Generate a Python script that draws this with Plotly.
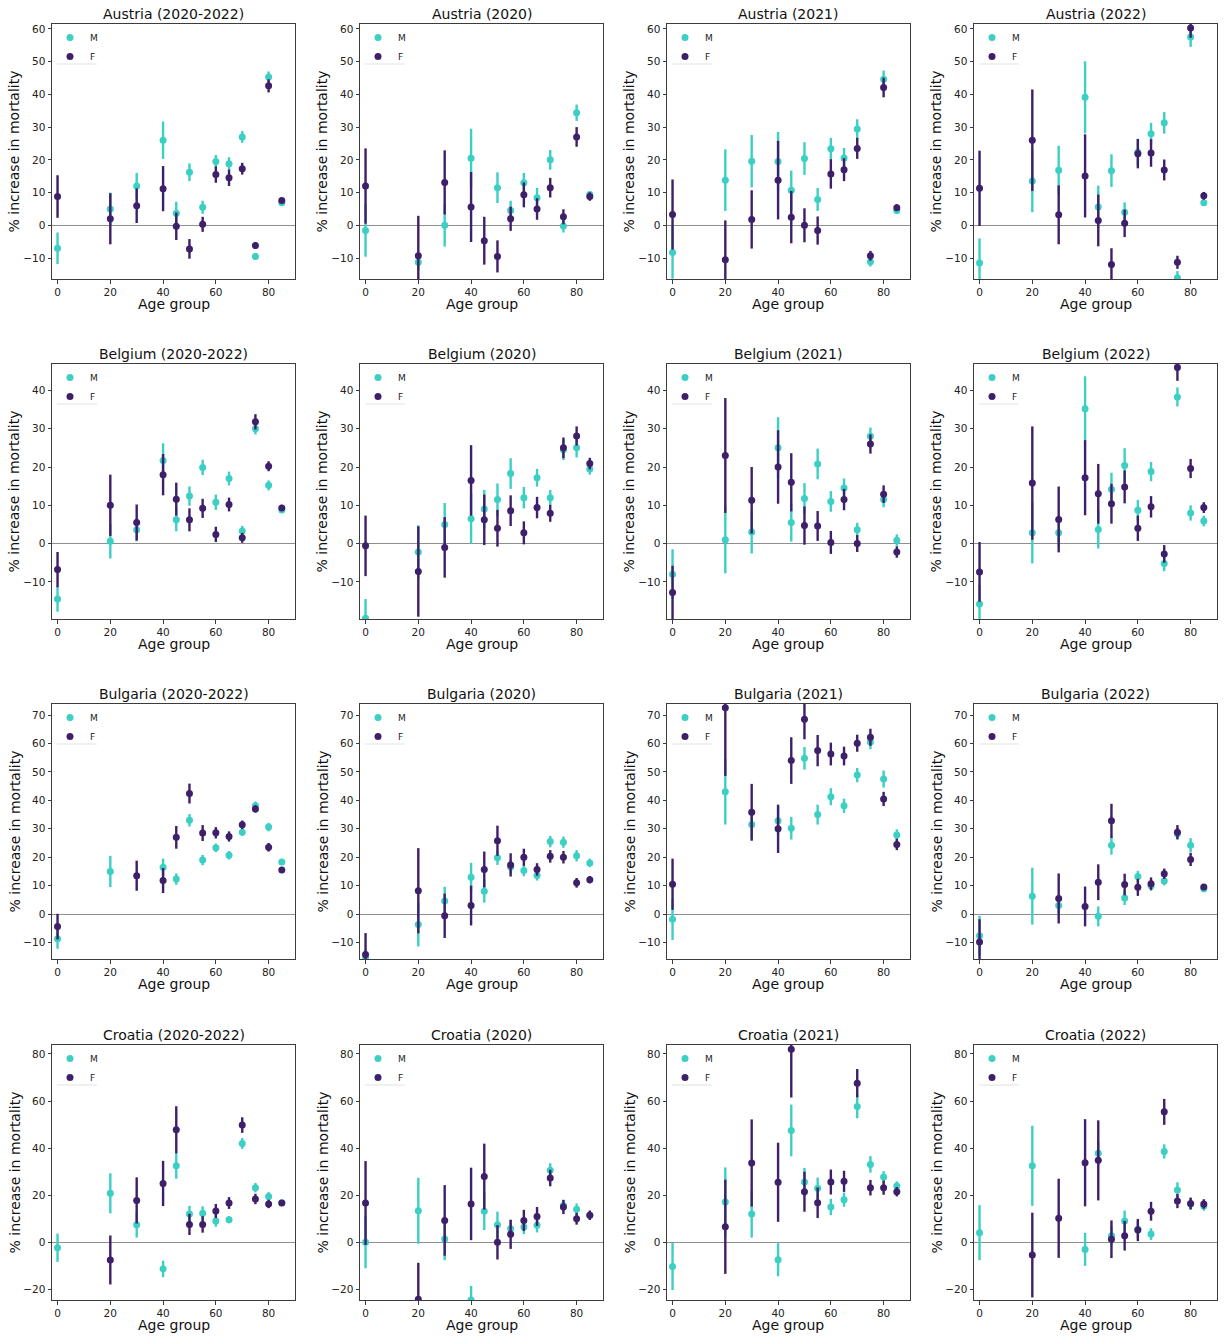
import plotly.graph_objects as go

# ---------------- data ----------------
AGES = [0, 20, 30, 40, 45, 50, 55, 60, 65, 70, 75, 80, 85]
X_TICKS = [0, 20, 40, 60, 80]
COUNTRIES = ["Austria", "Belgium", "Bulgaria", "Croatia"]
PERIODS = ["2020-2022", "2020", "2021", "2022"]
SEX_LABELS = ["M", "F"]

# Austria
AT_ALL_M = [-7, 5, 12, 26, 3.7, 16.2, 5.5, 19.5, 18.8, 27, -9.5, 45.3, 6.9]
AT_ALL_M_ERR = [4.8, 5, 4, 5.7, 3.5, 2.7, 2, 2, 2, 1.8, 1, 1.7, 0.8]
AT_ALL_F = [8.8, 2, 6, 11.2, -0.3, -7.2, 0.3, 15.5, 14.5, 17.3, -6.2, 42.6, 7.6]
AT_ALL_F_ERR = [6.5, 7.8, 5.3, 6.9, 4.2, 3, 2.3, 2.5, 2.5, 1.8, 1, 2, 0.8]

AT_2020_M = [-1.6, -11.3, 0, 20.5, None, 11.5, 4.5, 13, 8.4, 20, -0.2, 34.4, 9.4]
AT_2020_M_ERR = [8, 2.5, 6.5, 9, 0, 4.7, 3, 3, 3, 3, 2, 2.5, 1]
AT_2020_F = [12, -9.3, 13.1, 5.6, -4.7, -9.5, 2, 9.3, 5, 11.5, 2.6, 27, 8.8]
AT_2020_F_ERR = [11.5, 12.2, 9.8, 10.7, 7.3, 4.9, 3.7, 3.8, 3.3, 3, 2.3, 3, 1.3]

AT_2021_M = [-8.3, 13.8, 19.6, 19.5, 10.7, 20.4, 7.9, 23.4, 20.6, 29.4, -11.1, 44.6, 4.5]
AT_2021_M_ERR = [8, 9.4, 8, 9, 6, 5, 3.5, 3.3, 3, 3, 1.5, 2.7, 1]
AT_2021_F = [3.3, -10.5, 1.8, 13.8, 2.5, 0, -1.6, 15.7, 17, 23.5, -9.3, 42.1, 5.4]
AT_2021_F_ERR = [10.7, 12, 8.9, 12, 8, 5.2, 4.3, 4.5, 3.5, 3.2, 1.5, 3, 1]

AT_2022_M = [-11.5, 13.5, 16.8, 39.1, 5.6, 16.7, 4, 22.3, 28, 31.3, -16, 57.5, 6.9]
AT_2022_M_ERR = [7.5, 9.5, 7.5, 11, 6.5, 5, 3, 4, 3.3, 3.3, 2, 3, 1]
AT_2022_F = [11.3, 26, 3.2, 15.1, 1.5, -12, 0.6, 21.9, 22.1, 16.9, -11.3, 60.3, 9]
AT_2022_F_ERR = [11.5, 15.5, 9, 12.7, 7.9, 5, 4.2, 4.5, 4.2, 3.2, 2, 3, 1.2]

# Belgium
BE_ALL_M = [-14.5, 0.6, 3.6, 21.7, 6.2, 12.4, 19.9, 10.8, 17, 3.3, 30, 15.2, 8.8]
BE_ALL_M_ERR = [3.3, 4.5, 3, 4.5, 3, 2.5, 2, 2, 1.8, 1.3, 1.5, 1.3, 0.8]
BE_ALL_F = [-6.8, 10, 5.5, 18, 11.6, 6.2, 9.2, 2.4, 10.2, 1.5, 31.8, 20.2, 9.3]
BE_ALL_F_ERR = [4.6, 8, 4.7, 5.4, 4.3, 3, 2.5, 2, 1.8, 1.3, 2, 1.3, 0.8]

BE_2020_M = [-19.5, -2.2, 5, 6.5, 9, 11.5, 18.3, 12, 17.2, 12, 24.5, 25, 19.5]
BE_2020_M_ERR = [5, 7, 5.6, 6.5, 5, 4.2, 4, 2.8, 2.3, 2, 2.7, 2.5, 1.5]
BE_2020_F = [-0.6, -7.3, -1, 16.5, 6.2, 4, 8.6, 2.8, 9.4, 7.9, 25, 28.1, 20.9]
BE_2020_F_ERR = [7.9, 11.8, 7.9, 9.2, 6.6, 4.8, 4, 3, 2.8, 2.2, 2.7, 2.5, 1.5]

BE_2021_M = [-8, 1, 3, 25, 5.5, 11.8, 20.8, 11, 14.5, 3.6, 28, 11.5, 0.9]
BE_2021_M_ERR = [6.5, 8.8, 5.6, 8, 5, 4, 4, 2.7, 2.5, 1.8, 2.3, 2, 1.5]
BE_2021_F = [-12.8, 23, 11.3, 20, 16, 4.7, 4.6, 0.3, 11.5, 0, 26, 12.9, -2.2]
BE_2021_F_ERR = [7, 15, 8.7, 9.6, 7.6, 5, 3.9, 3, 2.8, 2.2, 2.5, 2.3, 1.5]

BE_2022_M = [-15.8, 2.8, 2.8, 35.2, 3.7, 14.2, 20.4, 8.7, 18.8, -5.2, 38.3, 8, 5.9]
BE_2022_M_ERR = [5, 8, 3.5, 8.5, 5, 4.3, 4.5, 2.7, 2.5, 2, 2.5, 2, 1.4]
BE_2022_F = [-7.4, 15.8, 6.3, 17.2, 13, 10.4, 14.8, 4, 9.6, -2.7, 46, 19.6, 9.4]
BE_2022_F_ERR = [7.8, 14.8, 8.6, 9.8, 7.8, 5.2, 4.3, 3.3, 2.8, 2.3, 3.5, 2.5, 1.4]

# Bulgaria
BG_ALL_M = [-8.7, 15, None, 16.5, 12.3, 33, 19, 23.3, 20.7, 28.8, 38.1, 30.6, 18.3]
BG_ALL_M_ERR = [3.5, 5.5, 0, 3, 2, 2.2, 1.8, 1.5, 1.5, 1.3, 1.5, 1.5, 0.8]
BG_ALL_F = [-4.4, None, 13.5, 11.8, 27, 42.4, 28.5, 28.6, 27.3, 31.4, 37, 23.5, 15.5]
BG_ALL_F_ERR = [4.5, 0, 5.3, 4.4, 4, 3.5, 2.8, 2, 1.8, 1.5, 1.3, 1.5, 0.8]

BG_2020_M = [-15.5, -3.7, 4.6, 13, 8, 19.8, 16.6, 15.3, 13.6, 25.5, 25.3, 20.5, 18]
BG_2020_M_ERR = [3, 7.7, 5, 5, 4, 2.5, 2.5, 2, 1.8, 2, 2, 2, 1.5]
BG_2020_F = [-14.2, 8.2, -0.6, 3, 15.7, 25.8, 17.3, 20, 15.7, 20.3, 20, 11, 12.1]
BG_2020_F_ERR = [7.5, 15, 7.8, 7, 6.3, 5.3, 4.1, 3, 2.2, 2.2, 2.2, 1.7, 1.3]

BG_2021_M = [-1.8, 43, 31.5, 32.8, 30.2, 54.8, 35, 41.3, 38.1, 48.9, 60.5, 47.5, 27.8]
BG_2021_M_ERR = [7.3, 11.5, 5, 5, 4, 4, 3.5, 3, 2.5, 2.5, 2.5, 3, 2]
BG_2021_F = [10.5, 72.6, 35.8, 30, 54, 68.5, 57.5, 56.3, 55.6, 60.1, 62.2, 40.5, 24.5]
BG_2021_F_ERR = [9, 24, 10, 8.5, 8.2, 7, 5.5, 4, 3.3, 3, 3, 2.5, 2]

BG_2022_M = [-7.6, 6.3, 3, None, -0.8, 24.2, 5.7, 13.2, 10, 11.6, 28.3, 24.2, 8.9]
BG_2022_M_ERR = [7, 10, 3.5, 0, 3.5, 3.3, 2.5, 2, 1.8, 1.5, 2, 2.5, 1.2]
BG_2022_F = [-9.8, None, 5.5, 2.7, 11.2, 32.8, 10.4, 9.4, 10.7, 14.2, 28.8, 19.2, 9.5]
BG_2022_F_ERR = [8, 0, 8.8, 7, 6.3, 6, 3.8, 3, 2.2, 1.8, 2.5, 2.3, 1]

# Croatia
HR_ALL_M = [-2.3, 20.8, 7.5, -11.3, 32.5, 12, 12.3, 9.1, 9.6, 42, 23.2, 19.5, 16.8]
HR_ALL_M_ERR = [6, 8.5, 5.5, 3.5, 5.5, 3.5, 3, 2.5, 1.5, 2.3, 2, 1.8, 1]
HR_ALL_F = [None, -7.5, 17.8, 25, 47.8, 7.6, 7.6, 13.3, 16.7, 49.8, 18.4, 16.3, 16.7]
HR_ALL_F_ERR = [0, 10.4, 9.8, 9.6, 10, 4.5, 3.5, 3, 2.5, 3.3, 2.2, 1.8, 1]

HR_2020_M = [0, 13.4, 1.4, -24.5, 13.2, 7.5, 5.8, 6.5, 7.2, 30.6, 15.6, 14, 11.5]
HR_2020_M_ERR = [11, 14, 9, 6, 8, 5.5, 3.5, 3, 3, 3, 2.5, 2.5, 1.5]
HR_2020_F = [16.7, -24.2, 9.3, 16.3, 27.9, 0, 3.4, 9.3, 11, 27.3, 15, 10, 11.5]
HR_2020_F_ERR = [17.8, 15.5, 15, 15.4, 14, 7.3, 6.2, 4.5, 4, 3.5, 3, 2.5, 2]

HR_2021_M = [-10.3, 17.1, 12, -7.4, 47.5, 25.6, 23, 15, 18.1, 57.7, 33.1, 27.7, 23.9]
HR_2021_M_ERR = [10, 14.7, 10, 7, 11, 6, 4.5, 3.5, 3, 5, 3.5, 2.5, 2]
HR_2021_F = [None, 6.6, 33.7, 25.5, 82, 21.5, 16.8, 25.6, 25.9, 67.6, 23.2, 23.2, 21.5]
HR_2021_F_ERR = [0, 20, 18.5, 16.8, 20.5, 8.5, 6.5, 5.3, 4.5, 6, 3.3, 3, 2]

HR_2022_M = [4.1, 32.5, None, -3, 37.8, 2.8, 9, 5.5, 3.5, 38.6, 22.2, 16.3, 15.4]
HR_2022_M_ERR = [11.7, 17, 0, 7, 5, 4, 4.5, 3.5, 2.5, 3, 3.3, 2.5, 2]
HR_2022_F = [None, -5.4, 10.2, 33.8, 34.8, 1.3, 2.8, 5.2, 13.2, 55.4, 17.5, 16.5, 16.3]
HR_2022_F_ERR = [0, 18, 16.8, 18.5, 17, 8, 6.3, 4.7, 4, 5.5, 3, 2.5, 2]

Y_TICKS_AT = [-10, 0, 10, 20, 30, 40, 50, 60]
Y_TICKS_BE = [-10, 0, 10, 20, 30, 40]
Y_TICKS_BG = [-10, 0, 10, 20, 30, 40, 50, 60, 70]
Y_TICKS_HR = [-20, 0, 20, 40, 60, 80]

PANELS = [
    [(AT_ALL_M, AT_ALL_M_ERR, AT_ALL_F, AT_ALL_F_ERR),
     (AT_2020_M, AT_2020_M_ERR, AT_2020_F, AT_2020_F_ERR),
     (AT_2021_M, AT_2021_M_ERR, AT_2021_F, AT_2021_F_ERR),
     (AT_2022_M, AT_2022_M_ERR, AT_2022_F, AT_2022_F_ERR)],
    [(BE_ALL_M, BE_ALL_M_ERR, BE_ALL_F, BE_ALL_F_ERR),
     (BE_2020_M, BE_2020_M_ERR, BE_2020_F, BE_2020_F_ERR),
     (BE_2021_M, BE_2021_M_ERR, BE_2021_F, BE_2021_F_ERR),
     (BE_2022_M, BE_2022_M_ERR, BE_2022_F, BE_2022_F_ERR)],
    [(BG_ALL_M, BG_ALL_M_ERR, BG_ALL_F, BG_ALL_F_ERR),
     (BG_2020_M, BG_2020_M_ERR, BG_2020_F, BG_2020_F_ERR),
     (BG_2021_M, BG_2021_M_ERR, BG_2021_F, BG_2021_F_ERR),
     (BG_2022_M, BG_2022_M_ERR, BG_2022_F, BG_2022_F_ERR)],
    [(HR_ALL_M, HR_ALL_M_ERR, HR_ALL_F, HR_ALL_F_ERR),
     (HR_2020_M, HR_2020_M_ERR, HR_2020_F, HR_2020_F_ERR),
     (HR_2021_M, HR_2021_M_ERR, HR_2021_F, HR_2021_F_ERR),
     (HR_2022_M, HR_2022_M_ERR, HR_2022_F, HR_2022_F_ERR)],
]
ROW_Y_TICKS = [Y_TICKS_AT, Y_TICKS_BE, Y_TICKS_BG, Y_TICKS_HR]

# ---------------- layout / style ----------------
W, H = 1225, 1338
COL_LEFT = [52, 360, 667, 974]
BOX_W = 243
ROW_TOP = [24, 364, 704, 1045]
BOX_H = 255
X_RANGE = [-2.1, 90]
ROW_Y_RANGE = [[-16.4, 61.5], [-19.7, 46.9], [-15.8, 73.9], [-24.5, 83.8]]

M_COLOR = "#3ccfc4"
F_COLOR = "#3e1f69"
AX_COLOR = "#3c3c3c"
FONT = "DejaVu Sans"


def px_x(p):
    return p / W


def px_y(p):
    return 1 - p / H


fig = go.Figure()
layout = dict(
    width=W, height=H, autosize=False,
    margin=dict(l=0, r=0, t=0, b=0),
    paper_bgcolor="white", plot_bgcolor="white",
    font=dict(family=FONT, color="#222222"),
    showlegend=True,
)
annotations = []
shapes = []

for r, country in enumerate(COUNTRIES):
    for c, period in enumerate(PERIODS):
        idx = r * 4 + c + 1
        sfx = "" if idx == 1 else str(idx)
        xa, ya = "x" + sfx, "y" + sfx
        leg = "legend" + sfx
        left, top = COL_LEFT[c], ROW_TOP[r]
        m, m_err, f, f_err = PANELS[r][c]

        for name, vals, errs, col in ((SEX_LABELS[0], m, m_err, M_COLOR),
                                       (SEX_LABELS[1], f, f_err, F_COLOR)):
            fig.add_trace(go.Scatter(
                x=AGES, y=vals, mode="markers", name=name,
                marker=dict(color=col, size=7),
                error_y=dict(type="data", array=errs, color=col,
                             thickness=2.4, width=0),
                xaxis=xa, yaxis=ya, legend=leg, showlegend=True,
            ))

        layout["xaxis" + sfx] = dict(
            domain=[px_x(left), px_x(left + BOX_W)], anchor=ya,
            range=X_RANGE, tickmode="array", tickvals=X_TICKS,
            ticks="outside", ticklen=3.5, tickcolor=AX_COLOR,
            showline=True, mirror=True, linecolor=AX_COLOR, linewidth=1,
            showgrid=False, zeroline=False,
            tickfont=dict(size=10.5, family=FONT, color="#222222"),
        )
        layout["yaxis" + sfx] = dict(
            domain=[px_y(top + BOX_H), px_y(top)], anchor=xa,
            range=ROW_Y_RANGE[r], tickmode="array", tickvals=ROW_Y_TICKS[r],
            ticks="outside", ticklen=3.5, tickcolor=AX_COLOR,
            showline=True, mirror=True, linecolor=AX_COLOR, linewidth=1,
            showgrid=False, zeroline=True, zerolinecolor="#8f8f8f",
            zerolinewidth=1,
            tickfont=dict(size=10.5, family=FONT, color="#222222"),
        )
        layout[leg] = dict(
            x=px_x(left - 2), y=px_y(top - 1), xref="paper", yref="paper",
            xanchor="left", yanchor="top", bgcolor="rgba(0,0,0,0)",
            borderwidth=0, font=dict(size=9, family=FONT, color="#222222"),
            tracegroupgap=0, itemwidth=30, traceorder="normal",
        )
        shapes.append(dict(
            type="line", xref="paper", yref="paper",
            x0=px_x(left + 5), x1=px_x(left + 45),
            y0=px_y(top + 40), y1=px_y(top + 40),
            line=dict(color="#e2e2e2", width=1),
        ))
        annotations.append(dict(
            text=f"{country} ({period})", xref="paper", yref="paper",
            x=px_x(left + BOX_W / 2), y=px_y(top - 10),
            xanchor="center", yanchor="middle", showarrow=False,
            font=dict(size=14, family=FONT, color="#111111"),
        ))
        annotations.append(dict(
            text="Age group", xref="paper", yref="paper",
            x=px_x(left + BOX_W / 2), y=px_y(top + BOX_H + 25),
            xanchor="center", yanchor="middle", showarrow=False,
            font=dict(size=14, family=FONT, color="#111111"),
        ))
        annotations.append(dict(
            text="% increase in mortality", xref="paper", yref="paper",
            x=px_x(left - 38), y=px_y(top + BOX_H / 2), textangle=-90,
            xanchor="center", yanchor="middle", showarrow=False,
            font=dict(size=14, family=FONT, color="#111111"),
        ))

layout["annotations"] = annotations
layout["shapes"] = shapes
fig.update_layout(**layout)
# remove the browser's default 8px body margin so the figure fills the window
fig.write_html(
    "out.html",
    config={"displayModeBar": False},
    post_script="document.body.style.margin='0';document.body.style.overflow='hidden';",
)
